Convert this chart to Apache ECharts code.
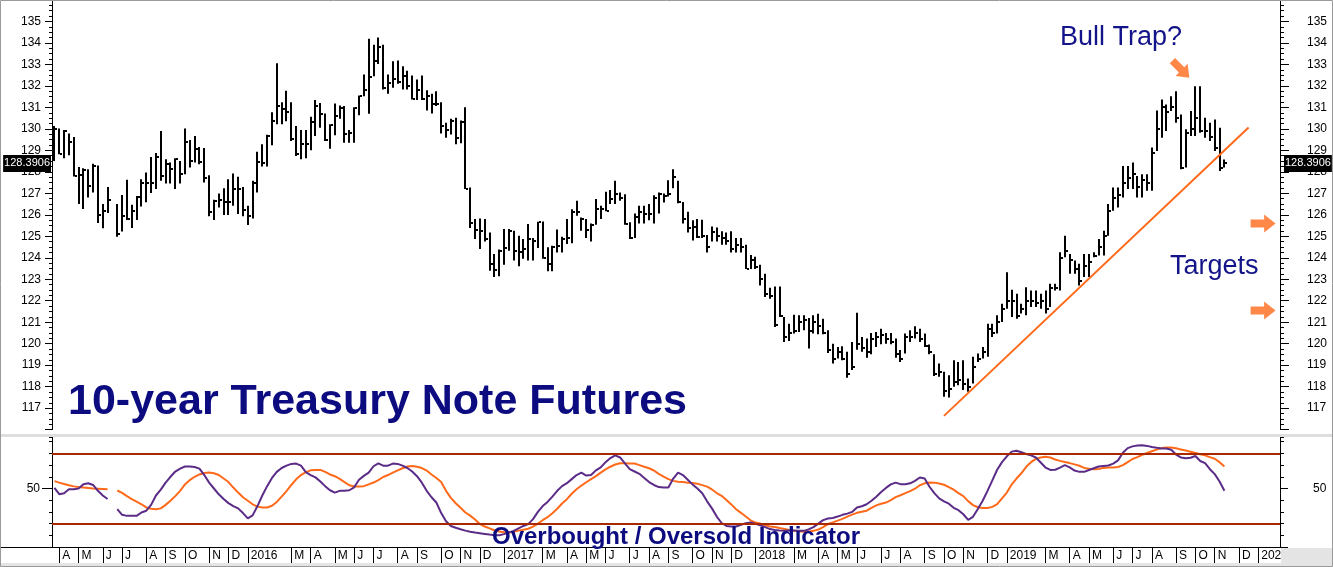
<!DOCTYPE html>
<html><head><meta charset="utf-8">
<script src="https://cdn.jsdelivr.net/npm/echarts@6/dist/echarts.min.js"></script>
<style>html,body{margin:0;padding:0;background:#fff}#c{width:1333px;height:567px}</style>
</head><body><div id="c"></div>
<script>
// ---- data ----
const startWeek = '2015-03-27';
const weekCount = 254;
const highs = [130.13,130.02,129.95,129.79,129.62,128.23,128.17,128.12,128.38,128.30,126.50,127.30,null,
126.50,126.92,127.63,126.47,126.88,127.66,127.97,128.69,128.88,129.90,128.59,128.43,128.63,128.51,130.02,129.48,129.67,129.16,
129.11,127.84,126.70,126.99,127.24,127.66,127.92,127.77,127.30,126.42,127.58,128.93,129.28,129.73,130.78,133.05,131.24,131.78,
131.24,130.13,129.95,129.95,130.57,131.34,131.21,130.72,130.21,131.18,131.09,131.06,129.95,131.01,131.55,132.53,134.20,133.92,
134.26,133.92,132.53,133.15,133.18,132.91,132.71,132.48,132.30,132.48,131.80,131.63,131.75,131.24,130.29,130.47,130.52,130.39,
131.01,127.27,125.80,125.83,125.80,125.18,124.18,124.38,125.34,125.34,125.26,125.03,124.87,125.57,124.92,125.68,125.69,124.49,
124.56,125.31,124.98,125.80,126.26,126.65,125.88,125.80,125.60,126.73,126.42,127.07,127.15,127.58,127.04,126.96,125.65,126.06,
126.42,126.42,126.50,126.91,127.04,126.99,127.61,128.12,127.58,126.60,126.14,125.75,125.80,125.77,125.06,125.46,125.41,125.23,
125.18,125.23,124.92,124.92,124.61,124.13,124.05,123.67,123.25,122.60,122.66,122.66,121.24,120.93,121.35,121.32,121.32,121.19,
121.32,121.39,121.16,120.62,120.00,119.85,119.88,119.62,120.08,121.44,120.31,120.24,120.50,120.54,120.70,120.50,120.50,120.24,
119.70,120.47,120.62,120.81,120.70,120.47,119.96,119.51,119.08,118.69,118.53,119.23,119.15,119.23,118.38,119.39,119.54,119.85,
120.93,120.93,121.32,121.86,123.33,122.51,122.32,121.86,122.63,122.48,122.48,122.32,122.48,122.79,122.79,124.26,125.03,124.18,
123.87,123.72,124.18,124.18,124.26,124.87,125.26,126.50,127.27,127.27,128.27,128.27,128.43,127.81,127.89,127.89,129.13,130.86,
131.37,131.13,131.52,131.75,130.67,129.98,130.83,131.99,131.99,130.52,130.28,130.44,130.05,128.58];
const lows = [128.50,128.82,128.63,128.77,127.78,126.50,126.27,126.81,127.04,125.62,125.37,126.08,null,
124.98,125.22,125.76,125.39,125.76,126.39,126.58,127.01,127.20,127.58,127.46,127.46,127.20,127.46,127.89,128.20,128.43,128.35,
127.50,125.93,125.76,126.34,125.99,125.99,126.42,126.04,125.93,125.52,125.83,127.04,128.25,128.25,129.24,130.21,130.21,130.36,
129.43,128.74,128.59,128.63,129.00,129.67,130.05,129.43,129.08,129.70,130.47,129.36,129.36,129.36,130.64,131.52,130.70,132.45,
133.02,131.83,131.63,131.91,132.10,131.83,131.83,131.37,131.34,131.34,130.86,130.72,131.06,129.78,129.59,129.74,129.28,129.33,
127.20,125.38,124.87,124.41,124.76,123.40,123.10,123.14,123.68,124.33,123.87,123.60,123.95,123.87,123.87,124.46,123.95,123.37,
123.37,124.25,124.25,124.64,124.67,125.96,125.26,124.92,124.76,125.54,125.80,126.16,126.50,126.50,126.65,125.54,124.87,124.92,
125.60,125.60,125.75,125.60,126.06,126.57,126.85,127.24,126.54,125.60,125.18,124.80,124.92,124.92,124.25,124.76,124.76,124.61,
124.61,124.25,124.25,124.25,123.48,123.48,123.48,122.71,122.17,122.09,120.78,121.24,120.08,120.13,120.47,120.54,120.62,119.77,
120.47,120.44,120.44,119.57,119.08,119.31,119.23,118.41,118.77,119.72,119.62,119.35,119.51,119.85,119.97,120.00,119.97,119.35,
119.15,119.54,120.08,120.24,120.08,119.85,119.51,118.50,118.46,117.53,117.50,117.99,118.07,117.84,117.76,118.15,119.15,119.31,
119.39,120.31,120.47,121.01,121.63,121.24,121.16,121.40,121.32,121.71,121.71,121.63,121.40,121.71,122.48,122.48,124.02,123.25,
123.25,122.71,123.10,123.10,124.02,124.10,124.10,125.03,126.19,126.34,126.81,127.20,127.20,126.81,126.81,127.12,127.12,128.97,
129.59,129.90,130.83,130.28,128.12,128.20,129.67,129.67,129.82,129.59,129.44,128.97,128.04,128.20];
const closes = [129.98,128.85,129.90,129.40,127.81,127.86,128.10,127.32,128.28,125.99,126.19,126.68,null,
125.10,125.93,125.80,126.17,126.84,127.50,127.50,127.50,128.71,127.81,128.38,128.15,128.59,127.89,129.39,128.51,129.05,128.46,
127.73,126.11,126.65,126.70,126.58,126.58,127.20,127.20,126.22,125.96,127.50,128.46,128.43,129.67,130.36,131.06,130.93,130.78,
129.51,128.82,129.28,129.28,130.32,131.06,130.67,129.47,130.18,130.60,130.98,129.75,129.82,130.98,131.52,131.83,132.42,133.15,
133.81,131.88,132.14,132.30,132.17,132.45,131.99,131.41,131.83,131.37,131.52,131.14,131.17,130.13,129.95,130.36,129.59,130.32,
127.20,125.60,125.31,125.26,124.87,123.71,123.44,124.33,124.46,125.26,124.33,124.25,124.41,124.87,124.80,125.68,123.99,123.71,
124.49,124.56,124.87,124.92,126.11,126.11,125.80,125.31,125.54,126.27,126.27,126.19,126.73,126.96,126.80,125.57,124.92,125.88,
126.11,126.03,126.03,126.76,126.96,126.88,126.96,127.76,126.60,125.80,125.37,125.41,124.95,125.00,124.49,125.20,125.00,124.90,
124.80,124.40,124.60,124.50,123.50,123.90,123.55,123.00,122.30,122.20,120.85,121.30,120.30,120.50,120.60,121.00,121.10,120.60,
121.00,120.80,120.50,119.70,119.30,119.60,119.30,118.60,118.90,120.00,119.80,119.60,120.20,120.30,120.40,120.20,120.10,119.50,
119.30,120.30,120.30,120.50,120.20,119.90,119.60,118.60,118.70,117.80,117.90,118.20,118.30,118.10,118.00,118.90,119.30,119.60,
120.70,120.50,121.00,121.60,122.00,122.00,121.30,121.60,122.00,122.00,121.90,122.00,121.60,122.60,122.60,124.00,124.30,123.90,
123.50,122.90,123.60,123.80,124.10,124.50,125.00,126.20,126.80,126.90,127.50,127.70,127.90,127.30,127.60,127.50,128.90,130.00,
131.00,130.80,131.00,130.50,128.20,129.80,130.00,130.50,129.90,129.90,129.60,129.10,128.20,128.39];
const oscFast = [50.5,45.1,46,49.4,49.4,50,53.7,54.5,53,48,44,41,null,
32.3,27.5,26.6,26.6,26.6,29.5,31,36,44,49,55,60,64.5,67,68.8,68.8,68.3,67,61.5,55,50,45,41,37.5,35,33,29,24.5,27,35,44,52,59,
64.2,67.5,69.5,71,71.3,69.5,64,61.5,59.5,56,52,48.5,46.5,48,48,48.5,51,57.5,60.8,63.5,69,71.5,69.5,69.5,71.3,71,69.5,67.5,64.5,
60.5,55,48,42.5,38,29,22,18,16.5,15.2,14,13,12.3,11.8,11.2,10.6,10.1,10.1,11,12.5,13.8,16,18,19.5,23.8,30,35,38.5,43,48,52,54.5,
58,61.5,63.5,61,61.5,65.5,68,72.5,76,78.3,76.5,71.5,66.5,64.5,62.5,59,55.5,53,51.2,50.8,50.8,58.5,63.5,61.5,57.5,53.5,50,46,39,
33,26,20.5,18,17.5,17.5,19,20.3,21,19.8,18.5,17,15.3,14.5,14,13.8,14.2,14,13.8,13.8,15,17,20,23,24.3,24.8,26,27.5,28.5,30,33.7,
34.8,36.5,39.5,43,47,50.5,53.5,55,53.7,53.7,54.4,56.5,59.4,58.5,51.5,46,41.5,39,37,33.5,31.5,28,23.2,25.8,32.5,39.5,48,57,66,
72.5,77.5,81.5,82.2,81,79.5,78.3,76.5,72.2,67.9,65.9,66,67.9,69.9,68,65.3,64.2,64.2,65.8,67.3,68.8,69.3,69.6,71.2,74,80.5,84.5,
86,86.7,87,86.4,85.5,84.8,84.2,84.2,83.1,79,76.5,75.8,76.3,77.8,73.5,71.6,66.5,62.3,56,48];
const oscSlow = [56.3,55,53.9,52.8,51.8,51.2,50.8,50.4,50,49.8,49.6,49.4,null,
48.3,46.3,43.5,41,38.8,36.5,33.8,32.7,32.3,33,36,39.5,43.5,48,53.5,57.2,60,62,63.2,63.6,63,61.5,58.5,55.5,50.8,46.5,42.5,39.5,
36.5,34.5,33.7,33.7,35.2,38.5,43,47.8,53,57.8,61.5,64,65.5,65.9,65.9,64.2,62,60.5,58.2,55.5,52.8,51.7,51.7,52,53.5,55.1,57.2,
59.8,61.5,63.5,65.5,67.3,68.8,69.3,68.6,67.5,65.3,62,59,55.5,48,42,37.4,33.6,29.5,26.8,23.5,19.7,17.5,15.9,14.3,13.2,12.6,12.4,
12.9,14,14.8,15.6,17.4,20,22.9,25.5,28.8,32.7,37.2,40.9,45.5,49.4,52.5,55.3,58,60.6,63.6,66.3,68.6,70.5,71.6,71.6,71.4,71.3,70,
68.6,67.3,65.4,62.5,60.2,58,56.5,55.8,55.5,55,54.7,54,52.9,51.6,49.2,46.1,43.7,40.2,36.4,32.3,29.2,26,22.8,20.9,20,18.6,17.6,
17.1,16.2,15.4,14.5,13.8,13.5,13,13,13.8,14.9,17,19.6,21,22.5,24,26,27.7,29.2,30.2,31,33.4,35.6,37,38,40,42.6,44.2,46,47.8,49.8,
52.8,54.4,55.1,55,54.3,53.2,51.2,49,46,43.5,39.2,35.8,34,33.3,33.4,34.3,36.6,41.5,46.5,53.5,58.5,63,68.5,72.5,75.3,76.5,77.2,
76.5,74.8,73.6,72.6,71.7,70.6,69.4,67.6,66.8,66.5,66.6,67.6,67.9,67.9,68.4,70,72.6,75.2,76.8,78.8,80.3,81.8,83.2,84.5,85,85,
84.3,83.4,82.4,81.4,80.4,79.3,78.3,76.8,75.4,72.5,68.8];
const lastPrice = 128.3906;
const trendLine = [[184, 116.64], [247, 130.06]];
const bandLevels = [80, 20];
const targetArrows = [[250, 125.6], [250, 121.55]];
const trapArrow = [233, 132.78];
const monthLetters = ['J','F','M','A','M','J','J','A','S','O','N','D'];

// ---- categories (weekly) ----
const cats = [], months = [], years = [];
const t0 = Date.parse(startWeek + 'T00:00:00Z');
for (let i = 0; i < weekCount; i++) {
  const d = new Date(t0 + i * 7 * 86400000);
  cats.push(d.toISOString().slice(0, 10));
  months.push(d.getUTCMonth());
  years.push(d.getUTCFullYear());
}
function isMonthStart(i) { return i > 0 && months[i] !== months[i - 1] && months[i] !== 1; }

const barData = [];
highs.forEach((h, i) => { if (h != null) barData.push([i, h, lows[i], closes[i]]); });

const FONT = '"Liberation Sans", Arial, sans-serif';
const NAVY = '#0C0C80';
const ORANGE = '#FF6A1A';
const PURPLE = '#5B2C87';
const BAND = '#A82800';

function renderBar(params, api) {
  const x = api.value(0);
  const hi = api.coord([x, api.value(1)]);
  const lo = api.coord([x, api.value(2)]);
  const cl = api.coord([x, api.value(3)]);
  const cx = Math.round(hi[0]);
  return {
    type: 'group',
    children: [
      { type: 'rect', shape: { x: cx - 1, y: hi[1], width: 2, height: Math.max(1, lo[1] - hi[1]) }, style: { fill: '#000' } },
      { type: 'rect', shape: { x: cx + 1, y: Math.round(cl[1]) - 1, width: 2, height: 2 }, style: { fill: '#000' } }
    ]
  };
}

const axisLabelBase = { color: '#000', fontSize: 12, fontFamily: FONT };
const chart = echarts.init(document.getElementById('c'), null, { renderer: 'canvas' });
const arrowPath = 'path://M0,5 L13,5 L13,0 L24,9 L13,18 L13,13 L0,13 Z';
const tagLabel = { show: true, formatter: String(lastPrice), backgroundColor: '#000', color: '#fff',
  fontSize: 11, fontFamily: FONT, padding: [3, 1, 3, 1] };

chart.setOption({
  animation: false,
  backgroundColor: '#fff',
  textStyle: { fontFamily: FONT },
  grid: [
    { left: 52, right: 53, top: -2, height: 431.6 },
    { left: 52, right: 53, top: 437, height: 110 },
    { left: 52, right: 53, top: 488.5, height: 58.5 }
  ],
  xAxis: [
    { type: 'category', gridIndex: 0, data: cats, show: false, boundaryGap: true },
    { type: 'category', gridIndex: 1, data: cats, boundaryGap: true,
      axisLine: { show: true, lineStyle: { color: '#000', width: 1 } },
      axisTick: { show: true, alignWithLabel: true, interval: (i) => isMonthStart(i), length: 16, lineStyle: { color: '#000' } },
      axisLabel: Object.assign({}, axisLabelBase, {
        interval: (i) => isMonthStart(i),
        formatter: (v, i) => months[i] === 0 ? String(years[i]) : monthLetters[months[i]],
        align: 'left', margin: 3, padding: [0, 0, 0, 3]
      }),
      splitLine: { show: false }
    },
    { type: 'category', gridIndex: 2, data: cats, show: false }
  ],
  yAxis: [
    { type: 'value', gridIndex: 0, position: 'left', min: 116, max: 136, interval: 1,
      axisLine: { show: true, lineStyle: { color: '#000' } },
      axisTick: { show: true, length: 7, lineStyle: { color: '#000' } },
      minorTick: { show: true, splitNumber: 4, length: 3, lineStyle: { color: '#000' } },
      axisLabel: Object.assign({}, axisLabelBase, { margin: 11, formatter: v => (v >= 117 && v <= 135) ? String(v) : '' }),
      splitLine: { show: false }, minorSplitLine: { show: false } },
    { type: 'value', gridIndex: 0, position: 'right', min: 116, max: 136, interval: 1,
      axisLine: { show: true, lineStyle: { color: '#000' } },
      axisTick: { show: true, length: 9, lineStyle: { color: '#000' } },
      minorTick: { show: true, splitNumber: 4, length: 4, lineStyle: { color: '#000' } },
      axisLabel: Object.assign({}, axisLabelBase, { margin: 27, formatter: v => (v >= 117 && v <= 135) ? String(v) : '' }),
      splitLine: { show: false } },
    { type: 'value', gridIndex: 1, position: 'left', min: 0, max: 94, interval: 10,
      axisLine: { show: true, lineStyle: { color: '#000' } },
      axisTick: { show: true, length: 3, lineStyle: { color: '#000' } },
      axisLabel: Object.assign({}, axisLabelBase, { margin: 12, formatter: v => v === 50 ? '50' : '' }),
      splitLine: { show: false } },
    { type: 'value', gridIndex: 1, position: 'right', min: 0, max: 94, interval: 10,
      axisLine: { show: true, lineStyle: { color: '#000' } },
      axisTick: { show: true, length: 4, lineStyle: { color: '#000' } },
      axisLabel: Object.assign({}, axisLabelBase, { margin: 33, formatter: v => v === 50 ? '50' : '' }),
      splitLine: { show: false } },
    { type: 'value', gridIndex: 2, position: 'left', min: 0, max: 50, interval: 50,
      axisLine: { show: false }, axisLabel: { show: false }, splitLine: { show: false },
      axisTick: { show: true, length: 10, lineStyle: { color: '#000' } } },
    { type: 'value', gridIndex: 2, position: 'right', min: 0, max: 50, interval: 50,
      axisLine: { show: false }, axisLabel: { show: false }, splitLine: { show: false },
      axisTick: { show: true, length: 8, lineStyle: { color: '#000' } } }
  ],
  series: [
    { type: 'custom', xAxisIndex: 0, yAxisIndex: 0, data: barData, renderItem: renderBar,
      encode: { x: 0, y: [1, 2, 3] }, z: 3, silent: true },
    { type: 'line', xAxisIndex: 0, yAxisIndex: 0, data: trendLine, symbol: 'none',
      lineStyle: { color: ORANGE, width: 2 }, z: 4, silent: true,
      markLine: {
        silent: true, symbol: 'none', lineStyle: { color: 'rgba(0,0,0,0)', width: 1 },
        data: [
          { yAxis: lastPrice, label: Object.assign({ position: 'start', distance: 1 }, tagLabel) },
          { yAxis: lastPrice, label: Object.assign({ position: 'end', distance: 4 }, tagLabel) }
        ]
      } },
    { type: 'scatter', xAxisIndex: 0, yAxisIndex: 0, symbol: arrowPath, symbolSize: [25, 18],
      itemStyle: { color: ORANGE }, z: 5, silent: true,
      data: [
        { value: targetArrows[0] }, { value: targetArrows[1] },
        { value: trapArrow, symbolRotate: -45, symbolSize: [24, 17] }
      ] },
    { type: 'line', xAxisIndex: 1, yAxisIndex: 2, data: oscSlow, symbol: 'none', connectNulls: false,
      lineStyle: { color: ORANGE, width: 2 }, z: 3, silent: true },
    { type: 'line', xAxisIndex: 1, yAxisIndex: 2, data: oscFast, symbol: 'none', connectNulls: false,
      lineStyle: { color: PURPLE, width: 2 }, z: 4, silent: true,
      markLine: { silent: true, symbol: 'none', label: { show: false },
        lineStyle: { color: BAND, width: 2, type: 'solid' },
        data: bandLevels.map(v => ({ yAxis: v })) } }
  ],
  graphic: [
    { type: 'rect', shape: { x: 0, y: 434, width: 1333, height: 3 }, style: { fill: '#dedede' }, z: 10 },
    { type: 'rect', shape: { x: 0, y: 563, width: 1333, height: 4 }, style: { fill: '#e4e4e4' }, z: 10 },
    { type: 'rect', shape: { x: 1281, y: 548, width: 52, height: 15 }, style: { fill: '#e4e4e4' }, z: 10 },
    { type: 'line', shape: { x1: 0, y1: 547.5, x2: 52, y2: 547.5 }, style: { stroke: '#000', lineWidth: 1 }, z: 10 },
    { type: 'rect', shape: { x: 0.5, y: 0.5, width: 1332, height: 566 }, style: { fill: 'none', stroke: '#9a9a9a', lineWidth: 1 }, z: 11 },
    { type: 'text', x: 68, y: 402, z: 12, style: { text: '10-year Treasury Note Futures', font: 'bold 43px ' + FONT, fill: NAVY, verticalAlign: 'middle' } },
    { type: 'text', x: 1060, y: 38, z: 12, style: { text: 'Bull Trap?', font: '27px ' + FONT, fill: '#14148A', verticalAlign: 'middle' } },
    { type: 'text', x: 1170, y: 267, z: 12, style: { text: 'Targets', font: '27px ' + FONT, fill: '#14148A', verticalAlign: 'middle' } },
    { type: 'text', x: 492, y: 537, z: 12, style: { text: 'Overbought / Oversold Indicator', font: 'bold 24px ' + FONT, fill: NAVY, verticalAlign: 'middle' } }
  ]
});
</script>
</body></html>
